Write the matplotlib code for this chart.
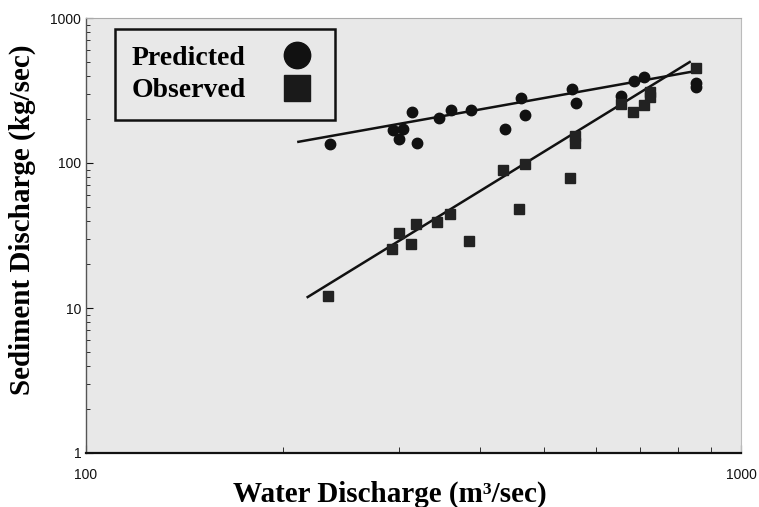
import numpy as np
import matplotlib
matplotlib.use('Agg')
import matplotlib.pyplot as plt
from matplotlib.lines import Line2D

# Predicted sediment discharge (circles)
pred_q = [236, 294, 305, 300, 320, 315, 346, 361, 387, 462, 436, 468,
          552, 560, 656, 686, 711, 854, 854]
pred_qs = [135, 169, 172, 146, 137, 225, 204, 232, 232, 281, 172, 214,
           324, 259, 290, 368, 392, 356, 334]

# Observed sediment discharge (squares)
obs_q = [234, 293, 300, 314, 319, 344, 360, 384, 433, 468, 458, 548,
         558, 558, 656, 684, 711, 726, 726, 854]
obs_qs = [12.1, 25.5, 32.9, 27.6, 37.9, 39.2, 44.5, 29.0, 89.5, 98.4, 48.2, 78.8,
          154, 137, 255, 225, 251, 309, 285, 452]

# Fitted power-law lines (end points)
pred_fit_q = [211, 853]
pred_fit_qs = [140, 431]
obs_fit_q = [218, 835]
obs_fit_qs = [11.9, 497]

x_ticks = [100, 1000]
y_ticks = [1, 10, 100, 1000]

fig = plt.figure(figsize=(7.59, 5.07), dpi=100)
fig.patch.set_facecolor('white')
ax = fig.add_axes([86 / 759, 1 - 453 / 507, 655 / 759, 435 / 507])
ax.set_facecolor('#e8e8e8')

ax.set_xscale('log')
ax.set_yscale('log')
ax.set_xlim(100, 1000)
ax.set_ylim(1, 1000)

ax.plot(pred_fit_q, pred_fit_qs, color='#111111', lw=1.8, zorder=3)
ax.plot(obs_fit_q, obs_fit_qs, color='#111111', lw=1.8, zorder=3)
ax.plot(pred_q, pred_qs, 'o', color='#111111', markersize=7.5, zorder=4)
ax.plot(obs_q, obs_qs, 's', color='#222222', markersize=6.5, zorder=4)

# ticks
ax.set_xticks(x_ticks)
ax.set_xticklabels([str(v) for v in x_ticks])
ax.set_yticks(y_ticks)
ax.set_yticklabels([str(v) for v in y_ticks])
ax.tick_params(axis='both', which='both', direction='in', colors='#111111')
ax.tick_params(axis='x', which='major', length=6, pad=11, labelsize=10)
ax.tick_params(axis='x', which='minor', length=4, labelbottom=False)
ax.tick_params(axis='y', which='major', length=5, pad=3.5, labelsize=10)
ax.tick_params(axis='y', which='minor', length=3, labelleft=False)
for lab in ax.get_xticklabels() + ax.get_yticklabels():
    lab.set_family('Liberation Sans')

ax.spines['bottom'].set_color('#111111')
ax.spines['bottom'].set_linewidth(1.6)
ax.spines['left'].set_color('#555555')
ax.spines['left'].set_linewidth(1.0)
ax.spines['top'].set_color('#aaaaaa')
ax.spines['top'].set_linestyle((0, (2, 1)))
ax.spines['right'].set_color('#bbbbbb')
ax.spines['right'].set_linestyle((0, (2, 1)))

ax.set_xlabel('Water Discharge (m³/sec)', family='Liberation Serif',
              fontweight='bold', fontsize=21)
ax.xaxis.set_label_coords(0.464, -0.063)
ax.set_ylabel('Sediment Discharge (kg/sec)', family='Liberation Serif',
              fontweight='bold', fontsize=21)
ax.yaxis.set_label_coords(-0.077, 0.536)

# legend with big markers after the text
handles = [
    Line2D([], [], marker='o', ls='none', color='#111111', markersize=19),
    Line2D([], [], marker='s', ls='none', color='#1a1a1a', markersize=19),
]
leg = ax.legend(handles, ['Predicted', 'Observed'], loc='upper left',
                bbox_to_anchor=(0.044, 0.975), markerfirst=False,
                frameon=True, fancybox=False, framealpha=1,
                facecolor='#e8e8e8', edgecolor='#111111',
                prop={'family': 'Liberation Serif', 'weight': 'bold', 'size': 20},
                handlelength=1.5, handletextpad=1.1, labelspacing=0.25,
                borderpad=0.6, borderaxespad=0)
leg.get_frame().set_linewidth(1.8)

fig.savefig('out.png', dpi=100, facecolor='white')
